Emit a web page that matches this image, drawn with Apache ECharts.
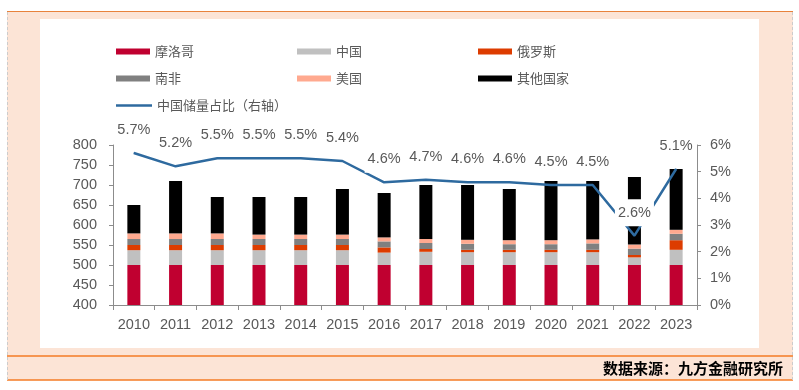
<!DOCTYPE html>
<html>
<head>
<meta charset="utf-8">
<script src="https://cdn.jsdelivr.net/npm/echarts@6/dist/echarts.min.js"></script>
<style>
html,body{margin:0;padding:0;background:#fff;}
#c{width:799px;height:390px;}
</style>
</head>
<body>
<div id="c"></div>
<script>
var years = ['2010','2011','2012','2013','2014','2015','2016','2017','2018','2019','2020','2021','2022','2023'];
var morocco = [500,500,500,500,500,500,500,500,500,500,500,500,500,500];
var china   = [37,37,37,37,37,37,31,33,32,32,32,32,19,38];
var russia  = [13,13,13,13,13,13,13,7,6,6,6,6,6,24];
var southAfrica = [15,15,15,15,15,15,15,15,15,14,14,16,16,16];
var usa     = [14,14,14,11,11,11,10,10,10,10,10,10,10,10];
var others  = [71,131,91,94,94,114,111,135,137,128,148,146,169,152];
var chinaShare = [5.7,5.2,5.5,5.5,5.5,5.4,4.6,4.7,4.6,4.6,4.5,4.5,2.6,5.1];
var leftTicks = {min:400, max:800, interval:50};
var rightTicks = {min:0, max:6, interval:1};

var gray = '#595959';
var axisColor = '#8c8c8c';
var fontLat = '"Liberation Sans", Arial, sans-serif';
var fontCJK = '"Noto Sans CJK SC", sans-serif';

var barNames = ['摩洛哥','中国','俄罗斯','南非','美国','其他国家'];
var barData = [morocco, china, russia, southAfrica, usa, others];
var barColors = ['#c00030','#c0c0c0','#dd3c00','#808080','#ffa98f','#000000'];
var lineName = '中国储量占比（右轴）';
var lineColor = '#2e6a9f';

var series = barNames.map(function(n,i){
  return {
    name:n, type:'bar', stack:'total', yAxisIndex:0,
    data:barData[i], barWidth:13,
    itemStyle:{color:barColors[i]},
    emphasis:{disabled:true}
  };
});
series.push({
  name:lineName, type:'line', yAxisIndex:1, data:chinaShare,
  symbol:'circle', symbolSize:1, showSymbol:true, z:5,
  lineStyle:{color:lineColor, width:2.5},
  itemStyle:{color:lineColor},
  label:{
    show:true, position:'top', distance:9,
    formatter:function(p){return p.value.toFixed(1)+'%';},
    color:gray, fontSize:14.5, fontFamily:fontLat,
    backgroundColor:'#fff', padding:[6,3]
  },
  labelLayout:{hideOverlap:false},
  emphasis:{disabled:true}
});

var legendPos = [
  [116,45],[297,45],[478,45],
  [116,72],[297,72],[478,72]
];
var legends = barNames.map(function(n,i){
  return {
    left:legendPos[i][0], top:legendPos[i][1], padding:0,
    itemWidth:34, itemHeight:6, itemGap:5, icon:'rect',
    data:[n], selectedMode:false,
    textStyle:{color:gray, fontSize:13, fontFamily:fontCJK}
  };
});
legends.push({
  left:116, top:99, padding:0,
  itemWidth:36, itemHeight:2.5, icon:'rect',
  data:[lineName], selectedMode:false,
  textStyle:{color:gray, fontSize:13, fontFamily:fontCJK}
});

var chart = echarts.init(document.getElementById('c'), null, {renderer:'canvas'});
chart.setOption({
  animation:false,
  backgroundColor:'transparent',
  graphic:[
    {type:'rect', z:-10, shape:{x:7,y:11,width:786,height:369}, style:{fill:'#fce4d6'}, silent:true},
    {type:'rect', z:-9, shape:{x:40,y:19,width:719,height:329}, style:{fill:'#ffffff'}, silent:true},
    {type:'line', z:-8, shape:{x1:7,y1:11.5,x2:793,y2:11.5}, style:{stroke:'#e8823c', lineWidth:1}, silent:true},
    {type:'line', z:-8, shape:{x1:7,y1:356,x2:793,y2:356}, style:{stroke:'#f57b25', lineWidth:1.5}, silent:true},
    {type:'line', z:-8, shape:{x1:7,y1:380,x2:793,y2:380}, style:{stroke:'#f57b25', lineWidth:1.5}, silent:true},
    {type:'line', z:-8, shape:{x1:7.5,y1:12,x2:7.5,y2:380}, style:{stroke:'#cccccc', lineWidth:1, lineDash:[3,2]}, silent:true},
    {type:'line', z:-8, shape:{x1:792.5,y1:12,x2:792.5,y2:380}, style:{stroke:'#cccccc', lineWidth:1, lineDash:[3,2]}, silent:true},
    {type:'text', z:10, style:{x:783, y:368, text:'数据来源：九方金融研究所', textAlign:'right', textVerticalAlign:'middle', fill:'#000', font:'bold 15px "Noto Sans CJK SC", sans-serif'}, silent:true}
  ],
  legend:legends,
  grid:{left:113, right:102, top:145, bottom:85, containLabel:false},
  xAxis:{
    type:'category', data:years, boundaryGap:true,
    axisLine:{show:true, lineStyle:{color:axisColor, width:1}},
    axisTick:{show:true, inside:false, length:5, lineStyle:{color:axisColor}},
    axisLabel:{color:gray, fontSize:14.5, fontFamily:fontLat, margin:12, interval:0},
    splitLine:{show:false}
  },
  yAxis:[
    {
      type:'value', min:leftTicks.min, max:leftTicks.max, interval:leftTicks.interval,
      axisLine:{show:true, lineStyle:{color:axisColor}},
      axisTick:{show:true, length:4, lineStyle:{color:axisColor}},
      axisLabel:{color:gray, fontSize:14.5, fontFamily:fontLat, margin:16},
      splitLine:{show:false}
    },
    {
      type:'value', position:'right', min:rightTicks.min, max:rightTicks.max, interval:rightTicks.interval,
      axisLine:{show:true, lineStyle:{color:axisColor}},
      axisTick:{show:true, length:4, lineStyle:{color:axisColor}},
      axisLabel:{color:gray, fontSize:14.5, fontFamily:fontLat, margin:13, formatter:'{value}%'},
      splitLine:{show:false}
    }
  ],
  series:series
});
</script>
</body>
</html>
